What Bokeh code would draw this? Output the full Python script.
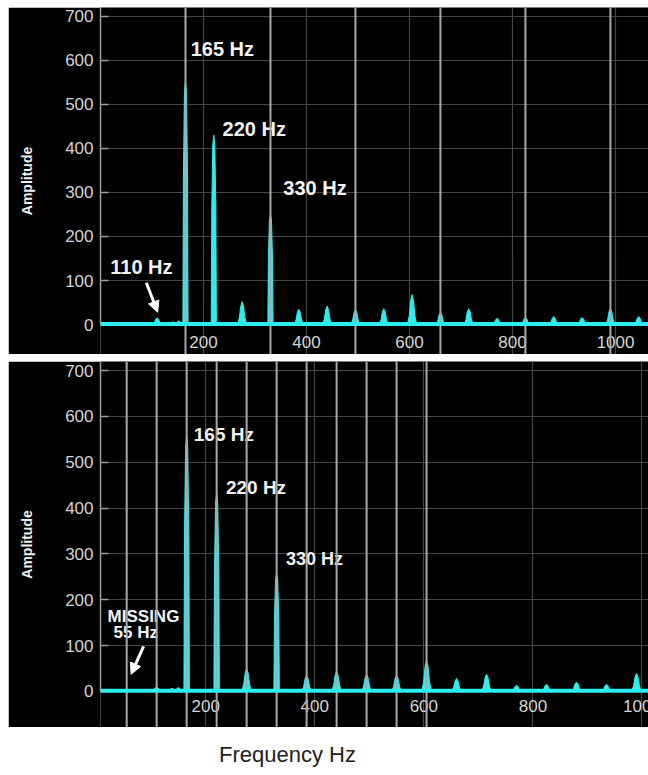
from bokeh.plotting import figure
from bokeh.models import Span, Grid, FixedTicker, Arrow, NormalHead, Range1d, Spacer
from bokeh.layouts import column, row
from bokeh.core.properties import value
from bokeh.embed import file_html
from bokeh.resources import INLINE

# ---------------- data ----------------
top_peak_freqs = [110, 165, 220, 275, 330, 385, 440, 495, 550, 605, 660, 715, 770, 825, 880, 935, 990, 1045]
top_peak_amps = [15, 555, 430, 52, 250, 35, 42, 34, 36, 68, 27, 36, 14, 16, 18, 16, 36, 18]
top_noise_freqs = [128, 140, 152]
top_noise_amps = [4, 6, 8]

bottom_peak_freqs = [110, 165, 220, 275, 330, 385, 440, 495, 550, 605, 660, 715, 770, 825, 880, 935, 990]
bottom_peak_amps = [9, 558, 433, 50, 256, 35, 44, 37, 35, 68, 28, 37, 13, 15, 20, 15, 39]
bottom_noise_freqs = [125, 138, 150]
bottom_noise_amps = [4, 6, 8]

top_harmonic_lines = [165, 330, 495, 660, 825, 990]          # multiples of 165 Hz
bottom_harmonic_lines = [55, 110, 165, 220, 275, 330, 385, 440, 495, 550, 605]  # multiples of 55 Hz

x_ticks = [200, 400, 600, 800, 1000]
x_tick_labels = ["200", "400", "600", "800", "1000"]
y_ticks = [0, 100, 200, 300, 400, 500, 600, 700]

top_labels = ["165 Hz", "220 Hz", "330 Hz", "110 Hz"]
bottom_labels = ["165 Hz", "220 Hz", "330 Hz", "MISSING", "55 Hz"]

# ---------------- style ----------------
FONT = "Liberation Sans"
CYAN = "#2ceeee"
BRIGHT = "#a8a8a8"
DIM = "#454545"
BORDER_LEFT = 92


def peak_shape(f, a):
    if a > 100:
        w = 5.0
        prof = [0, 0.6, 0.95, 1.0, 0.95, 0.6, 0]
        offs = [-1, -0.8, -0.4, 0, 0.4, 0.8, 1]
    else:
        w = 9.0
        prof = [0, 0.3, 0.8, 1.0, 0.8, 0.3, 0]
        offs = [-1, -0.6, -0.3, 0, 0.3, 0.6, 1]
    return [f + o * w for o in offs], [p * a for p in prof]


def make_panel(width, height, xr, yr, freqs, amps, nfreqs, namps,
               hlines, tick_label_y):
    p = figure(width=width, height=height, x_range=Range1d(*xr), y_range=Range1d(*yr),
               x_axis_location=None, toolbar_location=None, output_backend="svg",
               background_fill_color="black", border_fill_color="black",
               min_border_left=BORDER_LEFT, min_border_right=0,
               min_border_top=0, min_border_bottom=0, outline_line_color=None)
    ax = p.yaxis[0]
    ax.ticker = FixedTicker(ticks=y_ticks)
    ax.bounds = (0, yr[1])
    ax.axis_line_color = "#9a9a9a"
    ax.axis_line_width = 1.5
    ax.major_tick_in = 8
    ax.major_tick_out = 0
    ax.major_tick_line_color = "#9a9a9a"
    ax.major_tick_line_width = 1.5
    ax.minor_tick_line_color = None
    ax.major_label_text_font = FONT
    ax.major_label_text_font_size = "17px"
    ax.major_label_text_color = "#d4d4d4"
    ax.major_label_standoff = 7
    ax.axis_label = "Amplitude"
    ax.axis_label_text_font = FONT
    ax.axis_label_text_font_style = "bold"
    ax.axis_label_text_font_size = "14px"
    ax.axis_label_text_color = "#f0f0f0"
    ax.axis_label_standoff = 27
    p.ygrid.grid_line_color = DIM
    p.ygrid.grid_line_width = 1.2
    p.add_layout(Grid(dimension=0, ticker=FixedTicker(ticks=x_ticks),
                      grid_line_color=DIM, grid_line_width=1.2))
    for f in hlines:
        p.add_layout(Span(location=f, dimension="height", line_color=BRIGHT, line_width=2))
    p.text(x=x_ticks, y=[tick_label_y] * len(x_ticks), text=x_tick_labels,
           text_font=value(FONT), text_font_size="17px", text_color="#d4d4d4",
           text_align="center", text_baseline="middle")
    xs, ys = [], []
    for f, a in list(zip(nfreqs, namps)) + list(zip(freqs, amps)):
        sx, sy = peak_shape(f, a)
        xs.append(sx)
        ys.append(sy)
    p.patches(xs, ys, fill_color=CYAN, line_color=CYAN, line_width=1)
    p.add_layout(Span(location=1, dimension="width", line_color=CYAN, line_width=4))
    return p


# ---------------- top panel ----------------
top = make_panel(640, 347, (0, 1064), (-68, 720),
                 top_peak_freqs, top_peak_amps, top_noise_freqs, top_noise_amps,
                 top_harmonic_lines, -40)
top.text(x=[175, 237, 355], y=[625, 445, 309], text=top_labels[:3],
         text_font=value(FONT), text_font_style="bold", text_font_size="20px",
         text_color="#f4f4f4", text_align="left", text_baseline="middle")
top.text(x=[19], y=[130], text=top_labels[3:],
         text_font=value(FONT), text_font_style="bold", text_font_size="20px",
         text_color="#f4f4f4", text_align="left", text_baseline="middle")
top.add_layout(Arrow(end=NormalHead(size=11, fill_color="white", line_color="white"),
                     x_start=89, y_start=95, x_end=111, y_end=28,
                     line_color="white", line_width=3))

# ---------------- bottom panel ----------------
bottom = make_panel(640, 366, (7, 1012), (-79, 720),
                    bottom_peak_freqs, bottom_peak_amps, bottom_noise_freqs, bottom_noise_amps,
                    bottom_harmonic_lines, -31)
bottom.text(x=[178, 237], y=[560, 446], text=bottom_labels[:2],
            text_font=value(FONT), text_font_style="bold", text_font_size="19px",
            text_color="#f4f4f4", text_align="left", text_baseline="middle")
bottom.text(x=[347], y=[289], text=bottom_labels[2:3],
            text_font=value(FONT), text_font_style="bold", text_font_size="18px",
            text_color="#f4f4f4", text_align="left", text_baseline="middle")
bottom.text(x=[20, 31], y=[164, 129], text=bottom_labels[3:],
            text_font=value(FONT), text_font_style="bold", text_font_size="17px",
            text_color="#f4f4f4", text_align="left", text_baseline="middle")
bottom.add_layout(Arrow(end=NormalHead(size=11, fill_color="white", line_color="white"),
                        x_start=86, y_start=98, x_end=63, y_end=37,
                        line_color="white", line_width=3))

# ---------------- shared x label ----------------
lab = figure(width=640, height=40, x_range=Range1d(BORDER_LEFT, 640), y_range=Range1d(0, 40),
             x_axis_location=None, y_axis_location=None, toolbar_location=None,
             output_backend="svg", min_border_left=BORDER_LEFT, min_border_right=0,
             min_border_top=0, min_border_bottom=0, outline_line_color=None,
             background_fill_color="white", border_fill_color="white")
lab.xgrid.visible = False
lab.ygrid.visible = False
lab.text(x=[279], y=[20], text=["Frequency Hz"], text_font=value(FONT),
         text_font_size="22px", text_color="#222222", text_align="center",
         text_baseline="middle")

inner = column(top, bottom, lab, spacing=7)
layout = row(Spacer(width=8), column(Spacer(height=7), inner))
open("out.html", "w").write(file_html(layout, INLINE))
